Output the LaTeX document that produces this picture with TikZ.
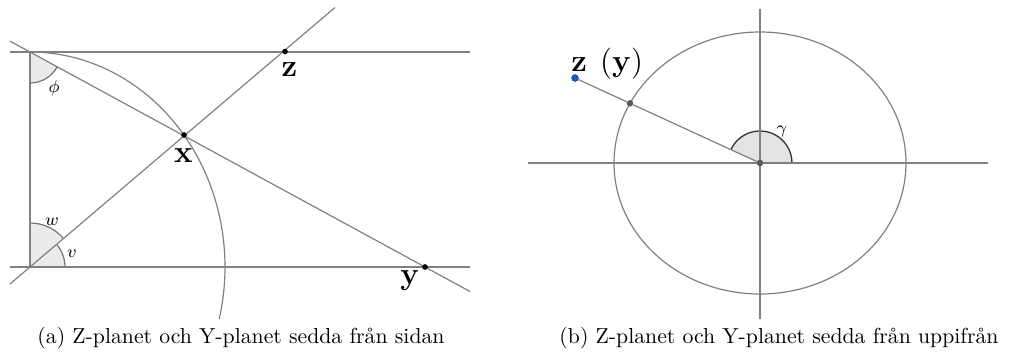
\documentclass[tikz,border=0pt]{standalone}
\usepackage{amsmath}
\usetikzlibrary{calc}
\definecolor{dotblue}{RGB}{30,90,190}
\begin{document}
\begin{tikzpicture}[x=0.4603pt,y=-0.4603pt,
  ln/.style={draw=black!50, line width=0.55pt},
  angfill/.style={fill=black!8},
  angline/.style={draw=black!55, line width=0.55pt},
  pt/.style={circle,fill=black,inner sep=0pt,minimum size=2.6pt},
  gpt/.style={circle,fill=black!65,inner sep=0pt,minimum size=3pt},
  bpt/.style={circle,fill=dotblue,draw=dotblue!70!black,line width=0.2pt,inner sep=0pt,minimum size=3.2pt},
  lbl/.style={inner sep=0pt,anchor=base,font=\fontsize{13.5}{15}\selectfont},
  sml/.style={inner sep=0pt,font=\footnotesize},
  captxt/.style={inner sep=0pt,font=\normalsize}]
\useasboundingbox (0,0) rectangle (1032,360);

% ---------- left figure ----------
\coordinate (A) at (30,52);
\coordinate (B) at (30,267);
\coordinate (T0) at (10,52);
\coordinate (T1) at (470,52);
\coordinate (B0) at (10,267);
\coordinate (B1) at (470,267);
\coordinate (L1s) at (10,41.1);
\coordinate (L1e) at (470,291.5);
\coordinate (L2s) at (10,284);
\coordinate (L2e) at (335,7.5);

% angle sectors
\fill[angfill] (A) -- ++(28.6:31) arc[start angle=28.6, end angle=90, radius=31] -- cycle;
\draw[angline] ($(A)+(28.6:31)$) arc[start angle=28.6, end angle=90, radius=31];
\fill[angfill] (B) -- ++(-90:44) arc[start angle=-90, end angle=-40.4, radius=44] -- cycle;
\draw[angline] ($(B)+(-90:44)$) arc[start angle=-90, end angle=-40.4, radius=44];
\fill[angfill] (B) -- ++(-40.4:35) arc[start angle=-40.4, end angle=0, radius=35] -- cycle;
\draw[angline] ($(B)+(-40.4:35)$) arc[start angle=-40.4, end angle=0, radius=35];

% lines
\draw[ln] (T0) -- (T1);
\draw[ln] (B0) -- (B1);
\draw[ln] (A) -- (B);
\draw[ln] (L1s) -- (L1e);
\draw[ln] (L2s) -- (L2e);
\draw[ln] (A) arc[start angle=-90, end angle=14, x radius=195, y radius=215];

\node[pt] (X) at (184,135) {};
\node[pt] (Z) at (285,51.5) {};
\node[pt] (Y) at (425,267) {};

\node[lbl] (xl) at (183.5,162) {$\mathbf{x}$};
\node[lbl] (zl) at (289.5,76) {$\mathbf{z}$};
\node[lbl] (yl) at (410,284) {$\mathbf{y}$};
\node[sml] (phil) at (54,88) {$\phi$};
\node[sml] (wl) at (52,222) {$w$};
\node[sml] (vl) at (72,254) {$v$};

% ---------- right figure ----------
\coordinate (O) at (760,163);
\coordinate (H0) at (528,163);
\coordinate (H1) at (988,163);
\coordinate (V0) at (760,9);
\coordinate (V1) at (760,319);

\fill[black!11] (O) -- ++(-155.3:32) arc[start angle=-155.3, end angle=0, radius=32] -- cycle;
\draw[draw=black!80, line width=0.6pt] ($(O)+(-155.3:32)$) arc[start angle=-155.3, end angle=0, radius=32];

\draw[ln] (H0) -- (H1);
\draw[ln] (V0) -- (V1);
\draw[ln] (O) ellipse[x radius=146, y radius=131];

\node[bpt] (P) at (575,78) {};
\node[gpt] (E) at (630,103.3) {};
\node[gpt] (Oc) at (O) {};
\draw[ln] (P) -- (E) -- (Oc);

\node[sml] (gl) at (782,131) {$\gamma$};
\node[inner sep=0pt,anchor=base west,font=\fontsize{15.5}{17}\selectfont] (zyl) at (571,71.5) {$\mathbf{z}\hskip 6pt(\mathbf{y})$};

% ---------- captions ----------
\node[captxt] (capa) at (241,338) {(a) Z-planet och Y-planet sedda från sidan};
\node[captxt] (capb) at (779,338) {(b) Z-planet och Y-planet sedda från uppifrån};
\end{tikzpicture}
\end{document}
